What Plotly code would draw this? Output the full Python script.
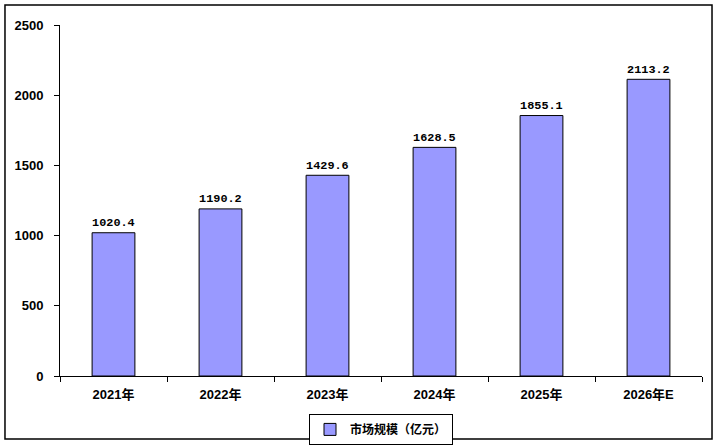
import plotly.graph_objects as go

categories = ["2021年", "2022年", "2023年", "2024年", "2025年", "2026年E"]
values = [1020.4, 1190.2, 1429.6, 1628.5, 1855.1, 2113.2]
labels = ["1020.4", "1190.2", "1429.6", "1628.5", "1855.1", "2113.2"]
series_name = "市场规模（亿元）"
y_ticks = [0, 500, 1000, 1500, 2000, 2500]

font_main = "Liberation Sans, Noto Sans CJK SC, sans-serif"
font_num = "Liberation Mono, Noto Sans CJK SC, monospace"

fig = go.Figure()
fig.add_trace(go.Bar(
    x=categories, y=values, name=series_name,
    marker=dict(color="#9999FF", line=dict(color="black", width=1)),
    text=labels, textposition="outside", cliponaxis=False,
    textfont=dict(family=font_num, size=13, color="black", weight="bold"),
))

fig.update_layout(
    width=717, height=445,
    margin=dict(l=60, r=15, t=25, b=69, autoexpand=False),
    paper_bgcolor="white", plot_bgcolor="white",
    bargap=0.6,
    showlegend=True,
    legend=dict(x=0.5, xanchor="center", y=-0.108, yanchor="top",
                orientation="h", bordercolor="black", borderwidth=1,
                font=dict(family=font_main, size=12, color="black", weight="bold"),
                itemwidth=30, traceorder="normal"),
    font=dict(family=font_main, size=13, color="black"),
)
fig.update_xaxes(
    showline=True, linecolor="black", linewidth=1,
    ticks="outside", ticklen=5, tickcolor="black", tickson="boundaries",
    tickfont=dict(family=font_main, size=13, color="black", weight="bold"),
    showgrid=False, ticklabelstandoff=6, automargin=False,
)
fig.update_yaxes(
    range=[0, 2500], tickvals=y_ticks,
    showline=True, linecolor="black", linewidth=1,
    ticks="outside", ticklen=5, tickcolor="black",
    tickfont=dict(family=font_main, size=13, color="black", weight="bold"),
    showgrid=False, zeroline=False, ticklabelstandoff=8, automargin=False,
)
fig.add_shape(type="rect", xref="paper", yref="paper",
              x0=-0.0857, x1=1.0156, y0=-0.1795, y1=1.057,
              line=dict(color="black", width=1.5), fillcolor="rgba(0,0,0,0)")

fig.write_html("out.html", config={"displayModeBar": False},
               post_script="document.body.style.margin='0';document.body.style.overflow='hidden';")
